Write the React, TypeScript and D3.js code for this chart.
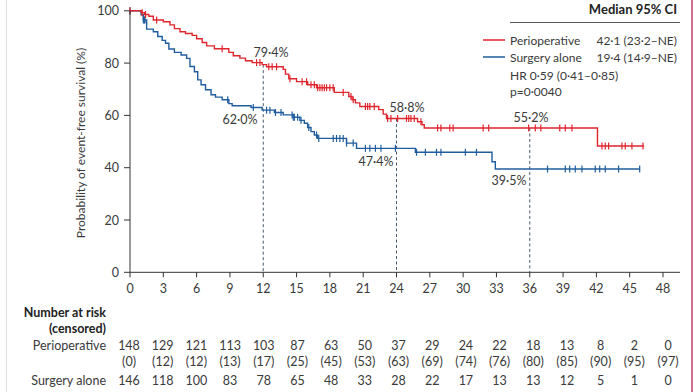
import React from "react"
import * as d3 from "d3"

const width = 698
const height = 392

// Kaplan-Meier steps (months, % event-free)
const periTimes = [0, 1.0, 1.3, 1.7, 2.1, 3.0, 3.6, 4.0, 4.5, 5.0, 5.6, 6.0, 6.5, 6.9, 7.6, 8.9, 9.3, 9.9, 10.4, 11.0, 11.9, 12.3, 13.8, 14.0, 14.3, 15.0, 16.0, 16.8, 18.4, 19.7, 20.0, 20.3, 20.7, 22.4, 22.8, 23.1, 25.9, 26.3, 26.5, 42.1, 46.3]
const periSurv = [100, 99.3, 98.6, 97.9, 96.5, 95.8, 94.6, 93.2, 92.0, 91.3, 90.6, 89.3, 87.9, 86.6, 85.5, 84.1, 82.8, 81.9, 80.9, 80.2, 79.4, 78.6, 77.6, 75.8, 74.0, 72.9, 71.7, 70.6, 68.8, 67.2, 66.0, 64.8, 63.4, 62.2, 60.5, 58.8, 57.6, 56.4, 55.2, 48.3, 48.3]
const periCensor = [0, 1.1, 1.4, 2.4, 8.3, 11.4, 11.7, 12.5, 12.8, 13.2, 14.4, 15.5, 15.9, 16.3, 16.6, 16.9, 17.1, 17.3, 17.5, 17.7, 18.0, 18.3, 19.2, 19.9, 20.1, 21.2, 21.4, 21.6, 22.0, 23.2, 23.5, 24.1, 24.9, 25.1, 25.3, 25.6, 26.2, 27.7, 28.0, 28.8, 29.1, 31.8, 32.3, 35.9, 36.5, 37.0, 38.7, 39.2, 39.8, 42.5, 42.8, 43.1, 44.3, 44.6, 45.2, 46.2]

const surgTimes = [0, 1.0, 1.2, 1.5, 2.1, 2.5, 2.9, 3.2, 3.5, 4.0, 4.6, 5.1, 5.4, 5.8, 6.1, 6.4, 6.8, 7.3, 7.7, 8.3, 8.9, 9.2, 10.9, 11.9, 13.0, 13.8, 14.7, 15.3, 15.7, 16.0, 16.3, 16.6, 16.9, 19.5, 20.4, 25.7, 32.6, 32.9, 45.9]
const surgSurv = [100, 98.5, 96.5, 93.0, 92.0, 90.2, 88.7, 87.6, 85.4, 84.1, 83.1, 81.8, 78.7, 76.7, 73.6, 71.7, 69.8, 67.9, 67.0, 66.0, 64.5, 63.7, 63.0, 62.0, 61.1, 60.2, 59.3, 58.1, 57.0, 55.4, 53.8, 52.5, 51.2, 49.4, 47.4, 45.9, 42.3, 39.5, 39.5]
const surgCensor = [0, 1.2, 1.3, 1.35, 8.8, 11.1, 12.3, 12.6, 13.1, 13.6, 14.6, 14.7, 14.8, 15.1, 15.4, 16.1, 16.8, 17.0, 18.3, 18.6, 18.9, 19.2, 19.5, 20.1, 21.2, 21.6, 22.1, 22.6, 23.9, 25.8, 26.6, 27.6, 28.0, 30.2, 31.2, 37.6, 39.2, 39.6, 40.1, 40.7, 41.9, 42.3, 42.8, 44.0, 45.9]

const xTicks = [0, 3, 6, 9, 12, 15, 18, 21, 24, 27, 30, 33, 36, 39, 42, 45, 48]
const yTicks = [0, 20, 40, 60, 80, 100]

const periRisk = [148, 129, 121, 113, 103, 87, 63, 50, 37, 29, 24, 22, 18, 13, 8, 2, 0]
const periCens = [0, 12, 12, 13, 17, 25, 45, 53, 63, 69, 74, 76, 80, 85, 90, 95, 97]
const surgRisk = [146, 118, 100, 83, 78, 65, 48, 33, 28, 22, 17, 13, 13, 12, 5, 1, 0]

const landmarks = [
  { t: 12, peri: "79·4%", surg: "62·0%" },
  { t: 24, peri: "58·8%", surg: "47·4%" },
  { t: 36, peri: "55·2%", surg: "39·5%" },
]

const legendRows = [
  { name: "Perioperative", median: "42·1 (23·2–NE)", color: "#e0262d" },
  { name: "Surgery alone", median: "19·4 (14·9–NE)", color: "#1f5d9e" },
]

const RED = "#e0262d"
const BLUE = "#1f5d9e"
const TEXT = "#3a3a3a"
const FONT = "Lato, 'Open Sans', sans-serif"

const x = d3.scaleLinear().domain([0, 48]).range([130, 663])
const y = d3.scaleLinear().domain([0, 100]).range([272.3, 10.8])
// the at-risk columns are spread a little wider than the axis
const col = d3.scaleLinear().domain([0, 48]).range([129, 668])

const stepLine = d3
  .line<[number, number]>()
  .x(d => x(d[0]))
  .y(d => y(d[1]))
  .curve(d3.curveStepAfter)

const survAt = (times: number[], surv: number[], t: number) => {
  const i = d3.bisectRight(times, t) - 1
  return surv[Math.max(0, i)]
}

const Curve = ({ times, surv, censor, color }: { times: number[]; surv: number[]; censor: number[]; color: string }) => {
  const pts = times.map((t, i) => [t, surv[i]] as [number, number])
  return (
    <g>
      <path d={stepLine(pts) || ""} fill="none" stroke={color} strokeWidth={1.4} />
      {censor.map((t, i) => {
        const cy = y(survAt(times, surv, t))
        return <line key={i} x1={x(t)} x2={x(t)} y1={cy - 3.5} y2={cy + 3.5} stroke={color} strokeWidth={1.2} />
      })}
    </g>
  )
}

export default function App() {
  return (
    <svg
      width={width}
      height={height}
      style={{ position: "absolute", left: 0, top: 0, background: "#fff" }}
      fontFamily={FONT}
    >
      <rect width={width} height={height} fill="#fff" />
      <line x1={6.5} x2={6.5} y1={0} y2={height} stroke="#ecdde2" strokeWidth={1} />
      <line x1={692} x2={692} y1={0} y2={height} stroke="#d0708f" strokeWidth={2} />

      {/* dashed landmark lines */}
      {landmarks.map(l => (
        <line
          key={l.t}
          x1={x(l.t)}
          x2={x(l.t)}
          y1={y(survAt(periTimes, periSurv, l.t))}
          y2={y(0)}
          stroke="#4a5a6a"
          strokeWidth={1}
          strokeDasharray="3,2.5"
        />
      ))}

      <Curve times={surgTimes} surv={surgSurv} censor={surgCensor} color={BLUE} />
      <Curve times={periTimes} surv={periSurv} censor={periCensor} color={RED} />

      {/* axes */}
      <line x1={x(0)} x2={x(0)} y1={y(0)} y2={y(100)} stroke="#333" strokeWidth={1} />
      <line x1={x(0)} x2={680} y1={y(0)} y2={y(0)} stroke="#333" strokeWidth={1} />
      {yTicks.map(v => (
        <g key={v}>
          <line x1={x(0) - 6} x2={x(0)} y1={y(v)} y2={y(v)} stroke="#333" />
          <text x={119} y={y(v) + 4.5} textAnchor="end" fontSize={12.5} fill={TEXT}>
            {v}
          </text>
        </g>
      ))}
      {xTicks.map(v => (
        <g key={v}>
          <line x1={x(v)} x2={x(v)} y1={y(0)} y2={y(0) + 5} stroke="#333" />
          <text x={x(v)} y={292.5} textAnchor="middle" fontSize={12.5} fill={TEXT}>
            {v}
          </text>
        </g>
      ))}
      <text
        transform={`translate(85, ${143}) rotate(-90)`}
        textAnchor="middle"
        fontSize={12}
        fill={TEXT}
      >
        Probability of event-free survival (%)
      </text>

      {/* landmark labels */}
      <g fontSize={12.5} fill={TEXT} textAnchor="middle">
        <text x={271} y={56.5}>{landmarks[0].peri}</text>
        <text x={240} y={123.5}>{landmarks[0].surg}</text>
        <text x={407} y={111.5}>{landmarks[1].peri}</text>
        <text x={376} y={165.5}>{landmarks[1].surg}</text>
        <text x={531} y={121.5}>{landmarks[2].peri}</text>
        <text x={509} y={184.5}>{landmarks[2].surg}</text>
      </g>

      {/* legend */}
      <text x={677} y={14} textAnchor="end" fontSize={13} fontWeight="bold" fill="#222">
        Median 95% CI
      </text>
      <line x1={510} x2={680} y1={22.5} y2={22.5} stroke="#555" strokeWidth={1} />
      {legendRows.map((r, i) => (
        <g key={r.name}>
          <line x1={483} x2={505} y1={40 + i * 17} y2={40 + i * 17} stroke={r.color} strokeWidth={1.5} />
          <text x={510} y={44.5 + i * 17} fontSize={12} fill={TEXT}>{r.name}</text>
          <text x={677} y={44.5 + i * 17} textAnchor="end" fontSize={12} fill={TEXT}>{r.median}</text>
        </g>
      ))}
      <text x={510} y={79.5} fontSize={12} fill={TEXT}>HR 0·59 (0·41–0·85)</text>
      <text x={510} y={95.5} fontSize={12} fill={TEXT}>p=0·0040</text>

      {/* number at risk table */}
      <text x={106} y={316.5} textAnchor="end" fontSize={12.5} fontWeight="bold" fill="#222">Number at risk</text>
      <text x={106} y={332.5} textAnchor="end" fontSize={12.5} fontWeight="bold" fill="#222">(censored)</text>
      <text x={106} y={349.5} textAnchor="end" fontSize={12.5} fill={TEXT}>Perioperative</text>
      <text x={106} y={384.5} textAnchor="end" fontSize={12.5} fill={TEXT}>Surgery alone</text>
      {xTicks.map((t, i) => (
        <g key={t} fontSize={12.5} fill={TEXT} textAnchor="middle">
          <text x={col(t)} y={349.5}>{periRisk[i]}</text>
          <text x={col(t)} y={365.5}>({periCens[i]})</text>
          <text x={col(t)} y={384.5}>{surgRisk[i]}</text>
        </g>
      ))}
    </svg>
  )
}
